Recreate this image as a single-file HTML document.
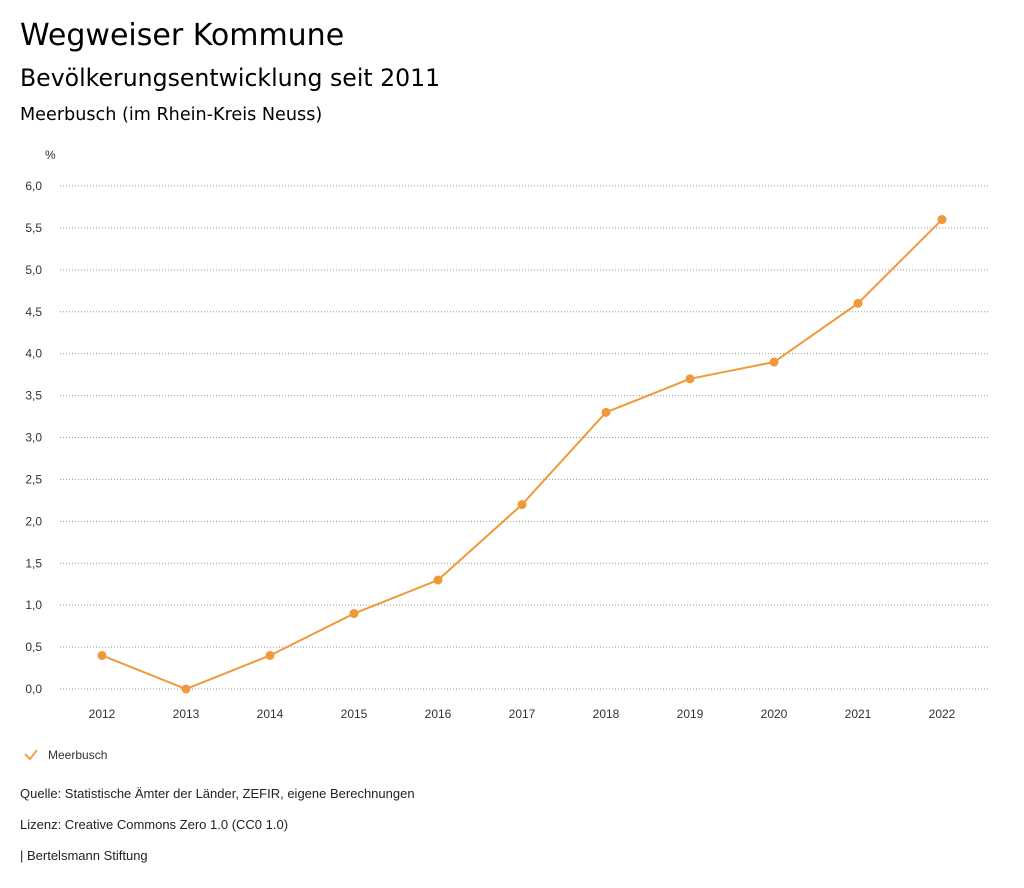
<!DOCTYPE html>
<html><head><meta charset="utf-8"><style>
body{margin:0;background:#fff;width:1024px;height:888px;overflow:hidden;font-family:"Liberation Sans",sans-serif;color:#222}
.t{position:absolute;left:20px;white-space:nowrap}
</style></head><body>
<div class="t" style="top:18px;font-family:'DejaVu Sans',sans-serif;font-size:30px;color:#000">Wegweiser Kommune</div>
<div class="t" style="top:64px;font-family:'DejaVu Sans',sans-serif;font-size:23.6px;color:#000">Bevölkerungsentwicklung seit 2011</div>
<div class="t" style="top:105px;font-family:'DejaVu Sans',sans-serif;font-size:17.6px;color:#000">Meerbusch (im Rhein-Kreis Neuss)</div>
<svg id="chart" width="1024" height="780" style="position:absolute;left:0;top:0"></svg>
<div class="t" style="top:786px;font-size:13px">Quelle: Statistische Ämter der Länder, ZEFIR, eigene Berechnungen</div>
<div class="t" style="top:817px;font-size:13px">Lizenz: Creative Commons Zero 1.0 (CC0 1.0)</div>
<div class="t" style="top:848px;font-size:13px">| Bertelsmann Stiftung</div>
<script>
const years=["2012","2013","2014","2015","2016","2017","2018","2019","2020","2021","2022"];
const values=[0.4,0.0,0.4,0.9,1.3,2.2,3.3,3.7,3.9,4.6,5.6];
const yTicks=[0,0.5,1,1.5,2,2.5,3,3.5,4,4.5,5,5.5,6];
const svg=document.getElementById('chart');const NS='http://www.w3.org/2000/svg';
const col='#f0993a';
const x=i=>102+i*84;const y=v=>689-v*(503/6);
function mk(t,a,p){const e=document.createElementNS(NS,t);for(const k in a)e.setAttribute(k,a[k]);(p||svg).appendChild(e);return e;}
const u=mk('text',{x:45,y:159,'font-size':12,fill:'#333'});u.textContent='%';


yTicks.forEach(v=>{
 const g=mk('line',{x1:60,x2:990,y1:y(v),y2:y(v),stroke:'#999','stroke-dasharray':'1,2','stroke-width':1});
 
 
 const t=mk('text',{x:42,y:y(v)+4,'font-size':12,fill:'#333','text-anchor':'end'});
 t.textContent=v.toFixed(1).replace('.',',');
 
 
});
years.forEach((yr,i)=>{
 const t=mk('text',{x:x(i),y:718,'font-size':12,fill:'#333','text-anchor':'middle'});
 t.textContent=yr;
 
 
});
const pl=mk('polyline',{points:values.map((v,i)=>x(i)+','+y(v)).join(' '),fill:'none',stroke:col,'stroke-width':2});


values.forEach((v,i)=>{
 const c=mk('circle',{cx:x(i),cy:y(v),r:4.5,fill:col});
 
 
});
const lg=mk('g',{});


mk('polyline',{points:'25,754 30,759 37,750',fill:'none',stroke:col,'stroke-width':1.8},lg);
const lt=mk('text',{x:48,y:759,'font-size':12,fill:'#333'},lg);lt.textContent='Meerbusch';
</script>
</body></html>
